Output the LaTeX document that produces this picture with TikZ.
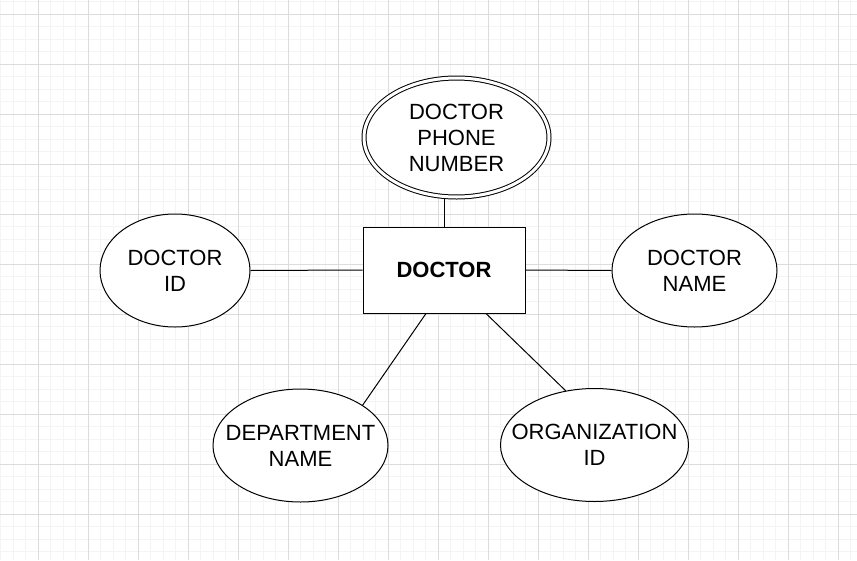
\documentclass[tikz,border=0pt]{standalone}
\usepackage{fontspec}
\setmainfont{Liberation Sans}
\usepackage{tikz}
\usetikzlibrary{shapes,arrows}
\usepackage{xcolor}
\definecolor{gridminor}{HTML}{F4F4F4}
\definecolor{gridmajor}{HTML}{DCDCDC}
\tikzset{
  attr/.style={ellipse, draw, line width=1pt, fill=white, inner sep=0pt},
  entity/.style={rectangle, draw, line width=1pt, fill=white, minimum width=162pt, minimum height=86pt},
  link/.style={line width=1pt},
  every label/.style={align=center, font=\fontsize{22}{26}\selectfont}
}

\begin{document}
\begin{tikzpicture}[x=1pt,y=-1pt]
     \useasboundingbox (0,0) rectangle (857,560);
     \fill [white] (0,0) rectangle (857,560);
     % grid
     \foreach \x in {0.5,13,...,857} \draw [gridminor, line width=0.8pt] (\x,0) -- (\x,560);
     \foreach \y in {1.5,14,...,560} \draw [gridminor, line width=0.8pt] (0,\y) -- (857,\y);
     \foreach \x in {38,88,...,857} \draw [gridmajor, line width=0.8pt] (\x,0) -- (\x,560);
     \foreach \y in {14,64,...,560} \draw [gridmajor, line width=0.8pt] (0,\y) -- (857,\y);
     % entity and attributes
     \node [entity, font=\fontsize{22}{26}\selectfont\bfseries] (doctor) at (444,270) {DOCTOR};
     \node [attr, double, double distance=3pt, minimum width=185pt, minimum height=119pt,
            label={center:DOCTOR\\PHONE\\NUMBER}] (phone) at (456.5,137.5) {};
     \node [attr, minimum width=150pt, minimum height=113pt,
            label={center:DOCTOR\\ID}] (docid) at (175,270.5) {};
     \node [attr, minimum width=165pt, minimum height=113pt,
            label={center:DOCTOR\\NAME}] (docname) at (694.5,270.5) {};
     \node [attr, minimum width=175pt, minimum height=113pt,
            label={center:DEPARTMENT\\NAME}] (dept) at (300.5,445.5) {};
     \node [attr, minimum width=188pt, minimum height=113pt,
            label={center:ORGANIZATION\\ID}] (org) at (594.5,445) {};
     % connectors
     \draw [link] (doctor.north) -- (doctor.north |- phone.south);
     \draw [link] (docid.east) -- (doctor.west);
     \draw [link] (doctor.east) -- (docname.west);
     \draw [link] ([xshift=-18pt]doctor.south) -- (dept.33);
     \draw [link] ([xshift=42pt]doctor.south) -- (org.118);
\end{tikzpicture}
\end{document}
